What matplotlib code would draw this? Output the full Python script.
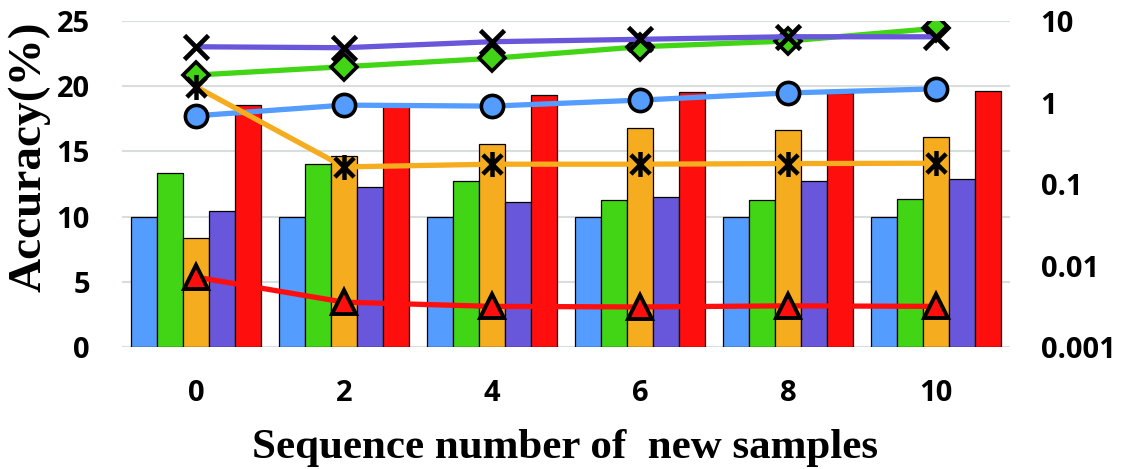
import matplotlib
matplotlib.use("Agg")
import matplotlib.pyplot as plt
import numpy as np
from matplotlib.path import Path

# ---------------- data ----------------
categories = ["0", "2", "4", "6", "8", "10"]

# bar series (left axis, Accuracy %)
bar_blue   = [10.0, 10.0, 10.0, 10.0, 10.0, 10.0]
bar_green  = [13.37, 14.07, 12.72, 11.31, 11.31, 11.36]
bar_orange = [8.38, 14.66, 15.58, 16.80, 16.65, 16.07]
bar_purple = [10.45, 12.28, 11.13, 11.51, 12.72, 12.90]
bar_red    = [18.56, 18.60, 19.34, 19.52, 19.50, 19.62]

# line series (right axis, log scale)
line_blue   = [0.687, 0.929, 0.903, 1.07, 1.31, 1.47]
line_green  = [2.17, 2.75, 3.48, 4.83, 5.68, 8.13]
line_orange = [1.56, 0.162, 0.175, 0.175, 0.178, 0.180]
line_purple = [4.83, 4.70, 5.57, 5.96, 6.41, 6.40]
line_red    = [0.0072, 0.00355, 0.00315, 0.0031, 0.0032, 0.00315]

left_ticks = [0, 5, 10, 15, 20, 25]
right_ticks = [0.001, 0.01, 0.1, 1, 10]
right_tick_labels = ["0.001", "0.01", "0.1", "1", "10"]

# ---------------- style ----------------
C_BLUE = "#559cff"
C_GREEN = "#42d516"
C_ORANGE = "#f5ac1f"
C_PURPLE = "#6857da"
C_RED = "#ff0e0e"
GRID = "#d8dede"

# Excel-style "star" marker: X plus vertical bar
star_path = Path(
    [(-1, -1), (1, 1), (-1, 1), (1, -1), (0, -1.3), (0, 1.3)],
    [Path.MOVETO, Path.LINETO, Path.MOVETO, Path.LINETO, Path.MOVETO, Path.LINETO],
)

fig = plt.figure(figsize=(11.22, 4.69), dpi=100)
ax = fig.add_axes([122 / 1122, 1 - 347 / 469, (1010 - 122) / 1122, (347 - 21) / 469])

x = np.arange(len(categories))
w = 0.1757
bar_sets = [
    (bar_blue, C_BLUE),
    (bar_green, C_GREEN),
    (bar_orange, C_ORANGE),
    (bar_purple, C_PURPLE),
    (bar_red, C_RED),
]
for i, (vals, col) in enumerate(bar_sets):
    ax.bar(x + (i - 2) * w, vals, width=w, color=col, edgecolor="black",
           linewidth=0.9, zorder=3)

ax.set_xlim(-0.5, 5.5)
ax.set_ylim(0, 25)
ax.set_yticks(left_ticks)
ax.set_xticks(x)
ax.set_xticklabels(categories)
ax.grid(axis="y", color=GRID, linewidth=1.5, zorder=0)
ax.set_axisbelow(True)
for s in ax.spines.values():
    s.set_visible(False)

TICK_FAMILY = ["Open Sans", "DejaVu Sans"]
TICK_SIZE = 21
ax.tick_params(axis="both", length=0)
ax.tick_params(axis="y", pad=23)
ax.tick_params(axis="x", pad=23)
for lab in ax.get_xticklabels() + ax.get_yticklabels():
    lab.set_fontfamily(TICK_FAMILY)
    lab.set_fontweight("bold")
    lab.set_fontsize(TICK_SIZE)

ax2 = ax.twinx()
ax2.set_yscale("log")
ax2.set_ylim(0.001, 10)
ax2.set_yticks(right_ticks)
ax2.set_yticklabels(right_tick_labels)
ax2.minorticks_off()
ax2.tick_params(axis="y", length=0, pad=22)
for lab in ax2.get_yticklabels():
    lab.set_fontfamily(TICK_FAMILY)
    lab.set_fontweight("bold")
    lab.set_fontsize(TICK_SIZE)
for s in ax2.spines.values():
    s.set_visible(False)

LW = 3.8
ax2.plot(x, line_blue, color=C_BLUE, lw=LW, marker="o", markersize=16,
         markerfacecolor=C_BLUE, markeredgecolor="black", markeredgewidth=2.6, zorder=4)
ax2.plot(x, line_green, color=C_GREEN, lw=LW, marker="D", markersize=13,
         markerfacecolor=C_GREEN, markeredgecolor="black", markeredgewidth=2.6, zorder=5)
ax2.plot(x, line_orange, color=C_ORANGE, lw=LW, marker=star_path, markersize=18,
         markerfacecolor="none", markeredgecolor="black", markeredgewidth=3.2, zorder=6)
ax2.plot(x, line_purple, color=C_PURPLE, lw=LW, marker="x", markersize=17,
         markeredgecolor="black", markeredgewidth=3.4, zorder=7)
ax2.plot(x, line_red, color=C_RED, lw=LW, marker="^", markersize=17,
         markerfacecolor=C_RED, markeredgecolor="black", markeredgewidth=2.8, zorder=8)

SERIF = ["Liberation Serif", "DejaVu Serif"]
fig.text(565 / 1122, 1 - 458 / 469, "Sequence number of  new samples",
         ha="center", va="baseline", family=SERIF, weight="bold", size=31)
fig.text(29 / 1122, 1 - 157 / 469, "Accuracy(%)", rotation=90,
         ha="center", va="center", family=SERIF, weight="bold", size=34)

fig.savefig("out.png", dpi=100)
